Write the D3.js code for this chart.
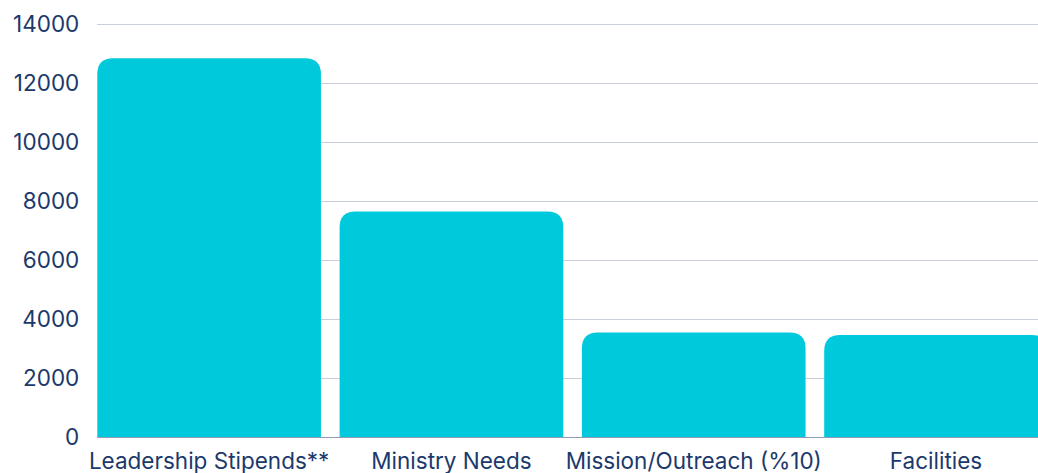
<!DOCTYPE html>
<html>
<head>
<meta charset="utf-8">
<script src="https://cdn.jsdelivr.net/npm/d3@7"></script>
<style>
  html, body { margin: 0; padding: 0; background: #fff; overflow: hidden; }
  svg { display: block; }
  .tick text { fill: #1b396b; font-size: 22.5px; font-family: Inter, "Noto Sans", sans-serif; }
</style>
</head>
<body>
<svg width="1038" height="473"></svg>
<script>
const categories = ["Leadership Stipends**", "Ministry Needs", "Mission/Outreach (%10)", "Facilities"]
const amounts = [12840, 7640, 3540, 3460]
const yTicks = [0, 2000, 4000, 6000, 8000, 10000, 12000, 14000]

const svg = d3.select("svg")

const plotLeft = 97.3, plotBase = 437, plotTop = 24
const step = 242.3, gap = 0.077

const scaleX = d3.scaleBand()
    .domain(categories)
    .range([plotLeft, plotLeft + step * (categories.length - gap)])
    .paddingInner(gap)
    .paddingOuter(0)

const scaleY = d3.scaleLinear()
    .domain([0, 14000])
    .range([plotBase, plotTop])

// grid
svg.append("g")
    .attr("class", "grid")
    .selectAll("line")
    .data(yTicks)
    .enter()
    .append("line")
    .attr("x1", plotLeft)
    .attr("x2", 1038)
    .attr("y1", d => scaleY(d) + 0.5)
    .attr("y2", d => scaleY(d) + 0.5)
    .attr("stroke", d => d === 0 ? "#8f9bb8" : "#c8cedd")
    .attr("stroke-width", 1.2)

const r = 16
const barPath = function(d, i){
    const x = scaleX(categories[i])
    const w = scaleX.bandwidth()
    const y = scaleY(d)
    const b = scaleY(0)
    return `M${x},${b} L${x},${y + r} Q${x},${y} ${x + r},${y} L${x + w - r},${y} Q${x + w},${y} ${x + w},${y + r} L${x + w},${b} Z`
}

svg.append("g")
    .selectAll("path")
    .data(amounts)
    .enter()
    .append("path")
    .attr("d", barPath)
    .attr("fill", "#00c9db")

const axisY = d3.axisLeft(scaleY)
    .tickValues(yTicks)
    .tickFormat(d3.format("d"))
    .tickSize(0)
    .tickPadding(18)

svg.append("g")
    .attr("transform", `translate(${plotLeft},0)`)
    .call(axisY)
    .call(g => g.select(".domain").remove())

const axisX = d3.axisBottom(scaleX)
    .tickSize(0)
    .tickPadding(16)

svg.append("g")
    .attr("transform", `translate(0,${plotBase})`)
    .call(axisX)
    .call(g => g.select(".domain").remove())
    .selectAll("text")
    .attr("dy", "0.71em")
</script>
</body>
</html>
